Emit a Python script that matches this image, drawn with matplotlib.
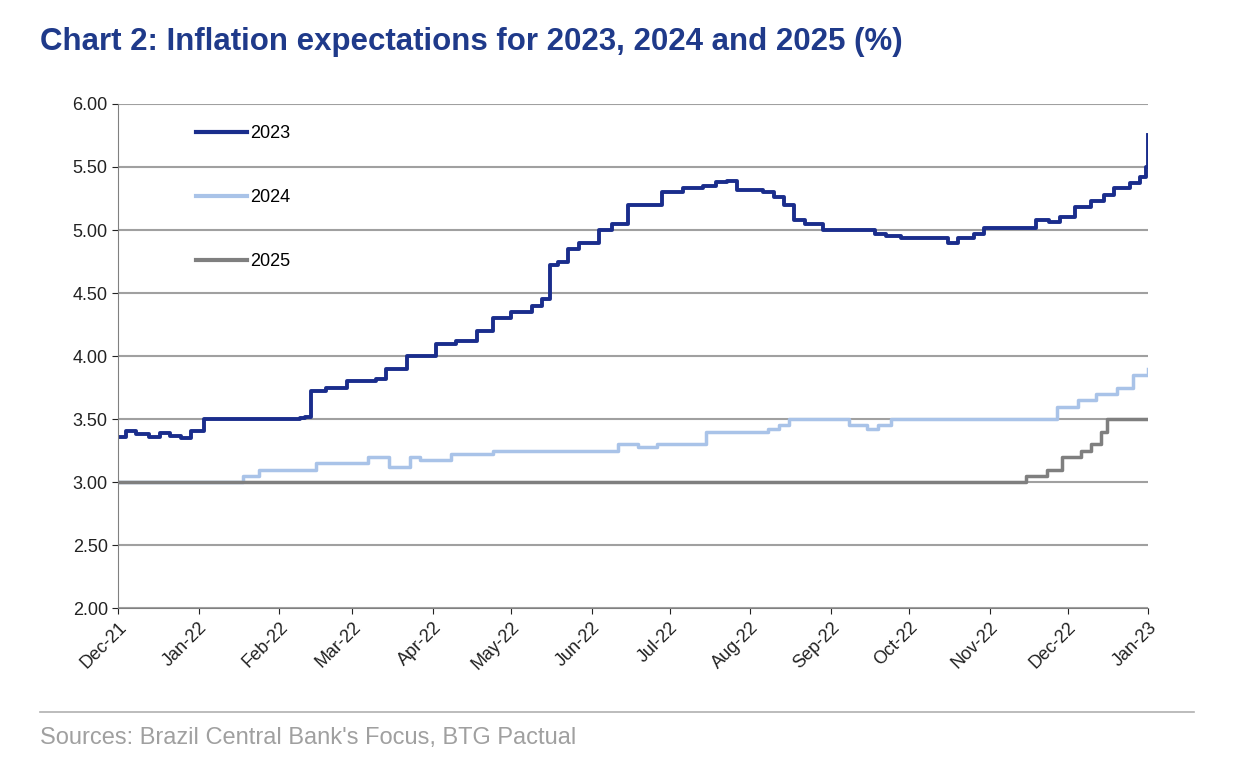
import matplotlib
matplotlib.use("Agg")
import matplotlib.pyplot as plt
import pandas as pd
from matplotlib.lines import Line2D

plt.rcParams['font.family'] = ['Liberation Sans', 'DejaVu Sans']

d2023 = ["2021-12-01","2021-12-04","2021-12-08","2021-12-13","2021-12-17","2021-12-21","2021-12-25","2021-12-29",
         "2022-01-03","2022-02-09","2022-02-11","2022-02-13","2022-02-19","2022-02-27","2022-03-10","2022-03-14",
         "2022-03-22","2022-04-02","2022-04-10","2022-04-18","2022-04-24","2022-05-01","2022-05-09","2022-05-13",
         "2022-05-16","2022-05-19","2022-05-23","2022-05-27","2022-06-04","2022-06-09","2022-06-15","2022-06-28",
         "2022-07-06","2022-07-14","2022-07-19","2022-07-23","2022-07-27","2022-08-06","2022-08-10","2022-08-14",
         "2022-08-18","2022-08-22","2022-08-29","2022-09-18","2022-09-22","2022-09-28","2022-10-16","2022-10-20",
         "2022-10-26","2022-10-30","2022-11-19","2022-11-24","2022-11-28","2022-12-04","2022-12-10","2022-12-15",
         "2022-12-19","2022-12-25","2022-12-29","2022-12-31","2023-01-01"]
v2023 = [3.36,3.41,3.38,3.36,3.39,3.37,3.35,3.41,
         3.50,3.51,3.52,3.72,3.75,3.80,3.82,3.90,
         4.00,4.10,4.12,4.20,4.30,4.35,4.40,4.45,
         4.72,4.75,4.85,4.90,5.00,5.05,5.20,5.30,
         5.33,5.35,5.38,5.39,5.32,5.30,5.26,5.20,
         5.08,5.05,5.00,4.97,4.95,4.94,4.90,4.94,
         4.97,5.02,5.08,5.06,5.10,5.18,5.23,5.28,
         5.33,5.37,5.42,5.50,5.75]

d2024 = ["2021-12-01","2022-01-12","2022-01-18","2022-01-24","2022-02-12","2022-02-15","2022-02-28","2022-03-07",
         "2022-03-15","2022-03-17","2022-03-23","2022-03-27","2022-04-08","2022-04-24","2022-06-08","2022-06-11",
         "2022-06-19","2022-06-26","2022-07-13","2022-07-15","2022-07-27","2022-08-08","2022-08-12","2022-08-16",
         "2022-09-04","2022-09-08","2022-09-15","2022-09-19","2022-09-24","2022-11-24","2022-11-27","2022-12-05",
         "2022-12-12","2022-12-20","2022-12-26","2023-01-01"]
v2024 = [3.00,3.00,3.05,3.10,3.10,3.15,3.15,3.20,
         3.12,3.12,3.20,3.18,3.22,3.25,3.25,3.30,
         3.28,3.30,3.30,3.40,3.40,3.42,3.45,3.50,
         3.50,3.45,3.42,3.45,3.50,3.50,3.60,3.65,
         3.70,3.75,3.85,3.90]

d2025 = ["2021-12-01","2022-11-11","2022-11-15","2022-11-23","2022-11-29","2022-12-06","2022-12-10","2022-12-14",
         "2022-12-16","2023-01-01"]
v2025 = [3.00,3.00,3.05,3.10,3.20,3.25,3.30,3.40,3.50,3.50]

ticks = pd.date_range("2021-12-01", "2023-01-01", freq="MS")

fig = plt.figure(figsize=(12.44, 7.70), dpi=100)
ax = fig.add_axes([0.095, 0.21, 0.828, 0.655])
ax.set_ylim(2.0, 6.0)
ax.set_xlim(pd.Timestamp("2021-12-01"), pd.Timestamp("2023-01-01"))
ax.set_yticks([2 + 0.5 * i for i in range(9)])
ax.yaxis.set_major_formatter(matplotlib.ticker.FormatStrFormatter('%.2f'))
ax.grid(axis='y', color='#a0a0a0', lw=1.5)
ax.set_axisbelow(True)
for s in ['top', 'right']:
    ax.spines[s].set_visible(False)
ax.spines['left'].set_color('#808080')
ax.spines['bottom'].set_color('#808080')
ax.set_xticks(ticks)
ax.set_xticklabels([t.strftime("%b-%y") for t in ticks], rotation=45, ha='right', rotation_mode='anchor')
ax.tick_params(labelsize=13, colors='#222222', length=4)

ax.plot(pd.to_datetime(d2024), v2024, drawstyle='steps-post', color='#a9c3e8', lw=2.5)
ax.plot(pd.to_datetime(d2025), v2025, drawstyle='steps-post', color='#7f7f7f', lw=2.5)
ax.plot(pd.to_datetime(d2023), v2023, drawstyle='steps-post', color='#1a2d8c', lw=2.8)

handles = [Line2D([], [], color='#1a2d8c', lw=3), Line2D([], [], color='#a9c3e8', lw=3), Line2D([], [], color='#7f7f7f', lw=3)]
ax.legend(handles, ['2023', '2024', '2025'], loc='upper left', bbox_to_anchor=(0.06, 0.99), frameon=False,
          fontsize=13, labelspacing=2.6, handlelength=2.8, handletextpad=0.2)

fig.text(0.032, 0.945, "Chart 2: Inflation expectations for 2023, 2024 and 2025 (%)", fontsize=22.5, fontweight='bold',
         color='#1f3a8a', va='center')
fig.add_artist(Line2D([0.032, 0.96], [0.075, 0.075], color='#b0b0b0', lw=1.2))
fig.text(0.032, 0.042, "Sources: Brazil Central Bank's Focus, BTG Pactual", fontsize=17, color='#a0a0a0', va='center')
fig.savefig("out.png", dpi=100)
